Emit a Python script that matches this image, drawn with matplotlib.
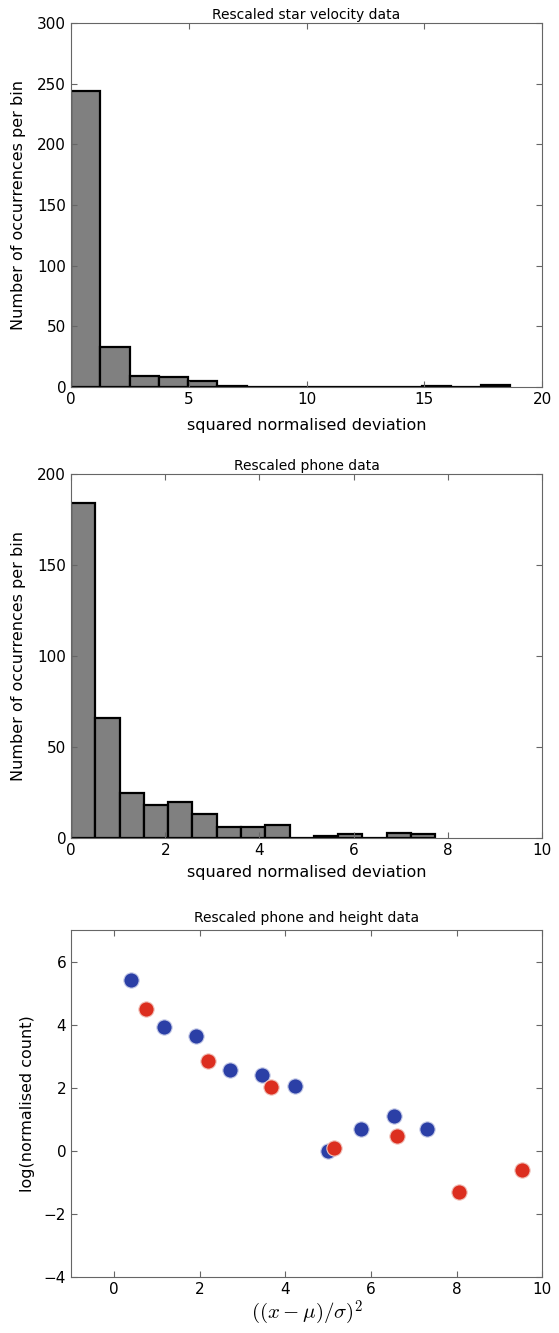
import matplotlib.pyplot as plt
import numpy as np

plt.rcParams['font.family'] = 'DejaVu Sans'
plt.rcParams['mathtext.fontset'] = 'cm'
plt.rcParams['xtick.direction'] = 'in'
plt.rcParams['ytick.direction'] = 'in'
plt.rcParams['xtick.top'] = True
plt.rcParams['ytick.right'] = True
plt.rcParams['axes.edgecolor'] = '#666666'

# star velocity histogram: 15 bins from 0 to ~18.63
star_counts = [244, 33, 9, 8, 5, 1, 0, 0, 0, 0, 0, 0, 1, 0, 2]
star_max = 18.63

# phone histogram: 15 bins from 0 to ~7.73
phone_counts = [184, 66, 25, 18, 20, 13, 6, 6, 7, 0, 1, 2, 0, 3, 2]
phone_max = 7.73

# scatter data
phone_x = [0.39, 1.18, 1.91, 2.71, 3.46, 4.24, 4.99, 5.78, 6.53, 7.31]
phone_y = [5.42, 3.94, 3.63, 2.55, 2.39, 2.07, 0.0, 0.68, 1.09, 0.68]
height_x = [0.74, 2.20, 3.67, 5.13, 6.60, 8.05, 9.53]
height_y = [4.49, 2.86, 2.03, 0.08, 0.48, -1.31, -0.61]

fig = plt.figure(figsize=(5.59, 13.33), dpi=100)
fig.patch.set_facecolor('white')

left, width = 0.127, 0.843
ax1 = fig.add_axes([left, 0.7097, width, 0.273])
ax2 = fig.add_axes([left, 0.3713, width, 0.2731])
ax3 = fig.add_axes([left, 0.042, width, 0.2603])


def hist_panel(ax, counts, top, xmax, ymax, title):
    edges = np.linspace(0, top, len(counts) + 1)
    ax.bar(edges[:-1], counts, width=np.diff(edges), align='edge',
           color='#808080', edgecolor='black', linewidth=1.6)
    ax.set_xlim(0, xmax)
    ax.set_ylim(0, ymax)
    ax.set_title(title, fontsize=10, pad=3)
    ax.set_xlabel('squared normalised deviation', fontsize=11.5)
    ax.set_ylabel('Number of occurrences per bin', fontsize=11.5, labelpad=8)
    ax.tick_params(labelsize=11, length=4, color='#666666')


hist_panel(ax1, star_counts, star_max, 20, 300, 'Rescaled star velocity data')
ax1.set_xticks([0, 5, 10, 15, 20])
ax1.set_yticks([0, 50, 100, 150, 200, 250, 300])
ax1.xaxis.labelpad = 8

hist_panel(ax2, phone_counts, phone_max, 10, 200, 'Rescaled phone data')
ax2.set_xticks([0, 2, 4, 6, 8, 10])
ax2.set_yticks([0, 50, 100, 150, 200])
ax2.xaxis.labelpad = 5

ax3.plot(phone_x, phone_y, 'o', color='#2b3fa6', markersize=11,
         markeredgecolor='#c8cde8', markeredgewidth=0.8)
ax3.plot(height_x, height_y, 'o', color='#dc2e1f', markersize=11,
         markeredgecolor='#f0c4bd', markeredgewidth=0.8)
ax3.set_xlim(-1, 10)
ax3.set_ylim(-4, 7)
ax3.set_xticks([0, 2, 4, 6, 8, 10])
ax3.set_yticks([-4, -2, 0, 2, 4, 6])
ax3.set_title('Rescaled phone and height data', fontsize=10, pad=6)
ax3.set_xlabel(r'$((x-\mu)/\sigma)^2$', fontsize=15, labelpad=1)
ax3.set_ylabel('log(normalised count)', fontsize=11.5, labelpad=6)
ax3.tick_params(labelsize=11, length=4, color='#666666')

fig.savefig('out.png', dpi=100, facecolor='white')
